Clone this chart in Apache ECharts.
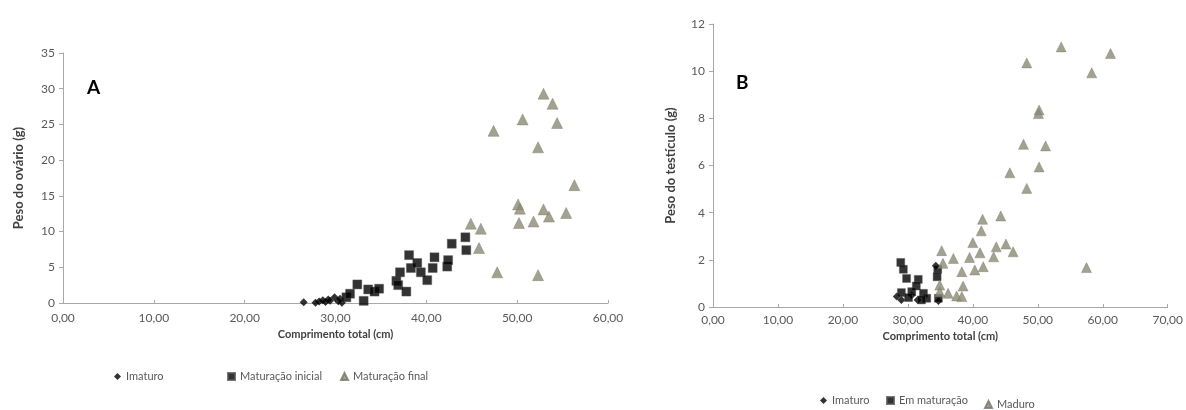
<!DOCTYPE html>
<html>
<head>
<meta charset="utf-8">
<script src="https://cdn.jsdelivr.net/npm/echarts@6/dist/echarts.min.js"></script>
<style>html,body{margin:0;padding:0;background:#fff;}#c{width:1186px;height:410px;}</style>
</head>
<body>
<div id="c"></div>
<script>
// Panel A (ovário)
const aImaturo = [[26.5,0.1],[27.8,0.05],[28.2,0.2],[28.6,0.4],[28.9,0.15],[29.2,0.5],[29.4,0.3],[29.9,0.8],[30.3,0.25],[30.5,0.6],[30.7,0.05]];
const aMatInicial = [[31.2,0.8],[31.6,1.3],[32.4,2.6],[33.1,0.3],[33.6,1.9],[34.3,1.6],[34.8,2.0],[36.7,3.1],[36.9,2.5],[37.1,4.3],[37.8,1.6],[38.1,6.7],[38.3,4.9],[39.0,5.6],[39.4,4.3],[40.1,3.2],[40.7,4.9],[40.9,6.4],[42.3,5.1],[42.4,6.0],[42.8,8.3],[44.3,9.2],[44.4,7.4]];
const aMatFinal = [[44.9,11.1],[46.0,10.4],[45.8,7.7],[47.8,4.3],[47.4,24.1],[50.1,13.8],[50.3,13.2],[50.2,11.2],[50.6,25.7],[51.8,11.4],[52.3,21.8],[52.3,3.9],[52.9,29.3],[52.9,13.1],[53.5,12.1],[53.9,27.9],[54.4,25.2],[55.4,12.6],[56.3,16.5]];
// Panel B (testículo)
const bImaturo = [[28.3,0.45],[29.0,0.3],[30.6,0.5],[31.5,0.3],[34.3,1.75],[34.7,0.25]];
const bEmMat = [[28.9,1.89],[29.3,1.6],[29.8,1.21],[31.6,1.17],[31.3,0.89],[29.0,0.61],[32.4,0.58],[32.9,0.37],[34.6,1.6],[34.5,1.28],[34.7,0.37],[30.6,0.65],[32.1,0.3],[30.1,0.4]];
const bMaduro = [[53.6,11.03],[61.2,10.75],[48.3,10.35],[58.3,9.93],[50.2,8.35],[50.1,8.2],[47.8,6.9],[51.2,6.83],[50.2,5.94],[45.7,5.69],[48.3,5.03],[44.3,3.86],[41.5,3.72],[41.3,3.23],[40.0,2.73],[57.5,1.67],[43.6,2.55],[45.1,2.67],[46.2,2.34],[43.2,2.13],[41.1,2.3],[39.5,2.1],[35.2,2.39],[37.0,2.06],[35.4,1.85],[41.6,1.71],[40.3,1.57],[38.3,1.5],[38.5,0.89],[34.9,0.93],[36.2,0.58],[37.5,0.47],[38.3,0.44],[34.9,0.65]];
const legendA = ['Imaturo','Maturação inicial','Maturação final'];
const legendB = ['Imaturo','Em maturação','Maduro'];

const FONT = 'Lato';
const AX = '#a8a8a8';
const LBL = '#595959';
const TRI = '#8c8b74';
const fmtX = v => v.toFixed(2).replace('.', ',');

function xAxis(gi, max, nameGap, margin){
  return {gridIndex: gi, type:'value', min:0, max:max, interval:10,
    name:'Comprimento total (cm)', nameLocation:'middle', nameGap:nameGap,
    nameTextStyle:{fontFamily:FONT, fontWeight:'bold', fontSize:11, color:'#404040'},
    axisLine:{lineStyle:{color:AX, width:1}},
    axisTick:{show:true, inside:true, length:3, lineStyle:{color:AX}},
    axisLabel:{formatter:fmtX, fontFamily:FONT, fontSize:12, color:LBL, margin:margin},
    splitLine:{show:false}};
}
function yAxis(gi, max, interval, name, nameGap){
  return {gridIndex: gi, type:'value', min:0, max:max, interval:interval,
    name:name, nameLocation:'middle', nameGap:nameGap, nameRotate:90,
    nameTextStyle:{fontFamily:FONT, fontWeight:'bold', fontSize:13, color:'#404040'},
    axisLine:{show:true, lineStyle:{color:AX, width:1}},
    axisTick:{show:true, length:4, lineStyle:{color:AX}},
    axisLabel:{fontFamily:FONT, fontSize:12, color:LBL, margin:8},
    splitLine:{show:false}};
}
function leg(name, left, top, icon, color){
  return {data:[{name:name, icon:icon, itemStyle:{color:color}}], left:left, top:top, itemWidth:7, itemHeight:7, itemGap:4,
    textStyle:{fontFamily:FONT, fontSize:11, color:LBL}, selectedMode:false, padding:0};
}
const option = {
  animation:false,
  grid:[{left:63, top:53, width:545, height:250},{left:713, top:24, width:455, height:283}],
  xAxis:[xAxis(0,60,22,9), xAxis(1,70,19,7)],
  yAxis:[yAxis(0,35,5,'Peso do ovário (g)',38), yAxis(1,12,2,'Peso do testículo (g)',36)],
  legend:[
    leg(legendA[0], 114, 371, 'diamond', '#000'),
    leg(legendA[1], 227, 371, 'rect', '#000'),
    leg(legendA[2], 340, 371, 'triangle', TRI),
    leg(legendB[0], 820, 395, 'diamond', '#000'),
    leg(legendB[1], 886, 395, 'rect', '#000'),
    leg(legendB[2], 984, 399, 'triangle', TRI)
  ],
  series:[
    {name:legendA[0], type:'scatter', xAxisIndex:0, yAxisIndex:0, data:aImaturo, symbol:'diamond', symbolSize:8, itemStyle:{color:'#000'}},
    {name:legendA[1], type:'scatter', xAxisIndex:0, yAxisIndex:0, data:aMatInicial, symbol:'rect', symbolSize:9, itemStyle:{color:'#000', borderColor:'#555', borderWidth:0.5}},
    {name:legendA[2], type:'scatter', xAxisIndex:0, yAxisIndex:0, data:aMatFinal, symbol:'triangle', symbolSize:11, itemStyle:{color:TRI, borderColor:'#77766a', borderWidth:0.5}},
    {name:legendB[0], type:'scatter', xAxisIndex:1, yAxisIndex:1, data:bImaturo, symbol:'diamond', symbolSize:8, itemStyle:{color:'#000'}},
    {name:legendB[1], type:'scatter', xAxisIndex:1, yAxisIndex:1, data:bEmMat, symbol:'rect', symbolSize:8, itemStyle:{color:'#000', borderColor:'#555', borderWidth:0.5}},
    {name:legendB[2], type:'scatter', xAxisIndex:1, yAxisIndex:1, data:bMaduro, symbol:'triangle', symbolSize:10, itemStyle:{color:TRI, borderColor:'#77766a', borderWidth:0.5}}
  ],
  graphic:[
    {type:'text', left:87, top:78, style:{text:'A', font:'bold 19px Lato', fill:'#000'}},
    {type:'text', left:736, top:73, style:{text:'B', font:'bold 19px Lato', fill:'#000'}}
  ]
};
const chart = echarts.init(document.getElementById('c'), null, {renderer:'canvas'});
chart.setOption(option);
</script>
</body>
</html>
